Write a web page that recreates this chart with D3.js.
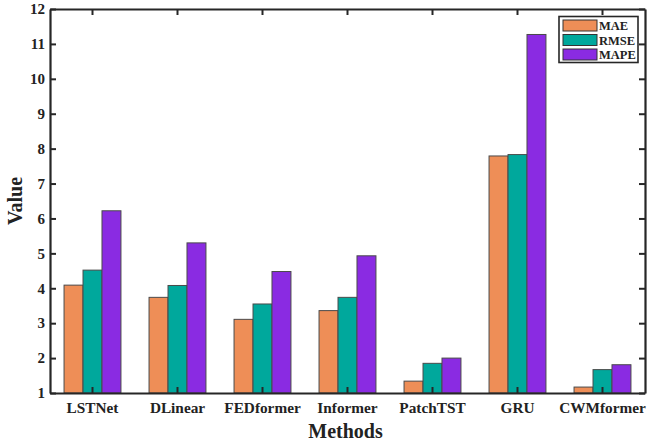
<!DOCTYPE html>
<html><head><meta charset="utf-8">
<script src="https://cdn.jsdelivr.net/npm/d3@7/dist/d3.min.js"></script>
<style>body{margin:0;background:#fff}svg{display:block}text{font-family:"Liberation Serif","Times New Roman",serif;font-weight:bold;fill:#222}</style>
</head><body><svg id="c" width="647" height="445"></svg>
<script>
const categories = ["LSTNet","DLinear","FEDformer","Informer","PatchTST","GRU","CWMformer"];
const seriesNames = ["MAE","RMSE","MAPE"];
const MAE  = [4.09, 3.74, 3.11, 3.36, 1.34, 7.79, 1.17];
const RMSE = [4.52, 4.08, 3.55, 3.74, 1.85, 7.83, 1.67];
const MAPE = [6.22, 5.30, 4.48, 4.93, 2.00, 11.27, 1.81];
const yTicks = [1,2,3,4,5,6,7,8,9,10,11,12];
const colors = ["#EE8E57","#00A89C","#8A2BE2"];

const values = [MAE, RMSE, MAPE];
const svg = d3.select("#c");
const L = 50, R = 645, T = 9, B = 393;
const x = d3.scaleBand().domain(categories).range([L, R]);
const x1 = d3.scaleBand().domain(seriesNames).range([0, x.bandwidth()]).paddingOuter(0.74);
const y = d3.scaleLinear().domain([1, 12]).range([B, T]);
const axisColor = "#262626";

// bars
categories.forEach((c, i) => {
  seriesNames.forEach((s, j) => {
    svg.append("rect")
      .attr("x", x(c) + x1(s))
      .attr("y", y(values[j][i]))
      .attr("width", x1.bandwidth())
      .attr("height", y(1) - y(values[j][i]))
      .attr("fill", colors[j])
      .attr("stroke", "#4a4a4a").attr("stroke-width", 1);
  });
});

// axes
const gL = svg.append("g").attr("transform", `translate(${L},0)`)
  .call(d3.axisLeft(y).tickValues(yTicks).tickSizeInner(-6).tickSizeOuter(0).tickPadding(5));
const gR = svg.append("g").attr("transform", `translate(${R},0)`)
  .call(d3.axisRight(y).tickValues(yTicks).tickSizeInner(-6).tickSizeOuter(0).tickFormat(""));
const gB = svg.append("g").attr("transform", `translate(0,${B})`)
  .call(d3.axisBottom(x).tickSizeInner(-6).tickSizeOuter(0).tickPadding(9));
const gT = svg.append("g").attr("transform", `translate(0,${T})`)
  .call(d3.axisTop(x).tickSizeInner(-6).tickSizeOuter(0).tickFormat(""));
[gL, gR, gB, gT].forEach(g => {
  g.attr("font-family", null);
  g.select(".domain").attr("stroke", axisColor).attr("stroke-width", 2.2);
  g.selectAll(".tick line").attr("stroke", axisColor).attr("stroke-width", 2);
  g.selectAll("text").attr("fill", "#222");
});
gL.selectAll("text").style("font-size", "15px");
gB.selectAll("text").style("font-size", "15.3px");

// axis titles
svg.append("text").attr("x", (L + R) / 2 - 2).attr("y", 438).attr("text-anchor", "middle")
  .style("font-size", "20px").text("Methods");
svg.append("text").attr("transform", `translate(22,${(T + B) / 2}) rotate(-90)`)
  .attr("text-anchor", "middle").style("font-size", "20px").text("Value");

// legend
const lg = svg.append("g");
lg.append("rect").attr("x", 559).attr("y", 16.5).attr("width", 79).attr("height", 46)
  .attr("fill", "#fff").attr("stroke", axisColor).attr("stroke-width", 1.6);
seriesNames.forEach((s, j) => {
  const yy = 20 + j * 14.5;
  lg.append("rect").attr("x", 563).attr("y", yy).attr("width", 34).attr("height", 11)
    .attr("fill", colors[j]).attr("stroke", "#333").attr("stroke-width", 1);
  lg.append("text").attr("x", 599).attr("y", yy + 10).style("font-size", "12.5px").text(s);
});
</script></body></html>
